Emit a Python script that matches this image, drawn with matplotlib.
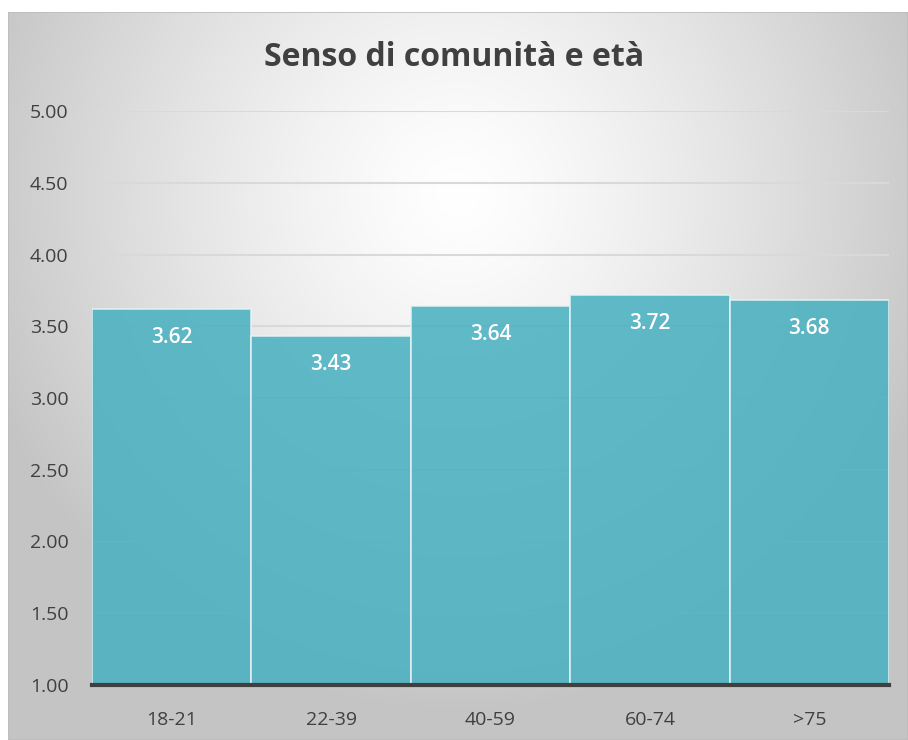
import numpy as np
import matplotlib
matplotlib.use("Agg")
import matplotlib.pyplot as plt
from matplotlib.patches import Rectangle

categories = ["18-21", "22-39", "40-59", "60-74", ">75"]
values = [3.62, 3.43, 3.64, 3.72, 3.68]
yticks = [1.00, 1.50, 2.00, 2.50, 3.00, 3.50, 4.00, 4.50, 5.00]
title = "Senso di comunità e età"

W, H = 908, 740
fig = plt.figure(figsize=(W / 100, H / 100), dpi=100)
fig.patch.set_facecolor("white")

# background radial gradient panel
bg = fig.add_axes([8 / W, 0, 1 - 8 / W, 1 - 12 / H])
bg.set_axis_off()
nx, ny = 400, 330
xx, yy = np.meshgrid(np.linspace(0, 1, nx), np.linspace(0, 1, ny))
cx, cy = 0.5, 0.25
r = np.sqrt(((xx - cx) / 0.75) ** 2 + ((yy - cy) / 0.95) ** 2)
r = np.clip(r / 0.75, 0, 1)
light = 1.0 - 0.23 * r ** 1.3
img = np.dstack([light, light, light])
bg.imshow(img, aspect="auto", extent=[0, 1, 0, 1], origin="upper")
bg.add_patch(Rectangle((0, 0), 1, 1, transform=bg.transAxes, fill=False,
                       edgecolor="#bdbdbd", lw=1.2))

font = ["Open Sans", "DejaVu Sans"]

ax = fig.add_axes([92 / W, (H - 685) / H, (889 - 92) / W, (685 - 111) / H])
ax.patch.set_alpha(0)
ax.set_ylim(1.0, 5.0)
ax.set_xlim(-0.5, len(categories) - 0.5)
ax.set_yticks(yticks)
ax.set_yticklabels([f"{v:.2f}" for v in yticks], fontsize=14, color="#404040",
                   family=font)
ax.set_xticks(range(len(categories)))
ax.set_xticklabels(categories, fontsize=14, color="#404040", family=font)
ax.tick_params(length=0)
ax.tick_params(axis="x", pad=19)
ax.tick_params(axis="y", pad=17)
ax.yaxis.grid(True, color="#d9d9d9", lw=1.5, zorder=0)
ax.set_axisbelow(True)
for s in ["top", "right", "left"]:
    ax.spines[s].set_visible(False)
ax.spines["bottom"].set_color("#404040")
ax.spines["bottom"].set_linewidth(3)
ax.spines["bottom"].set_zorder(5)

bars = ax.bar(range(len(categories)), [v - 1.0 for v in values], bottom=1.0,
              width=1.0, color="#4bb1c0", alpha=0.88, edgecolor="#e6f4f6",
              linewidth=1.2, zorder=3)
for i, v in enumerate(values):
    ax.text(i, v - 0.125, f"{v:.2f}", ha="center", va="top", fontsize=15,
            color="white", fontweight="semibold", family=font, zorder=6)

fig.text(0.5, 1 - 57 / H, title, ha="center", va="center", fontsize=23,
         fontweight="bold", color="#404040", family=font)

fig.savefig("out.png", dpi=100)
